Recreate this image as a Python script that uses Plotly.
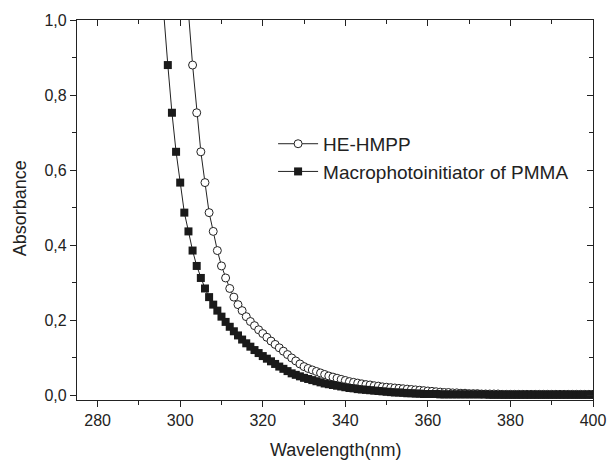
import plotly.graph_objects as go

# ---------------- data ----------------
wl_macro = list(range(295, 401))
abs_macro = [
    1.25, 1.02,
    0.880, 0.753, 0.649, 0.567, 0.487, 0.437, 0.386, 0.345, 0.313, 0.285,
    0.262, 0.242, 0.226, 0.210, 0.196, 0.183, 0.171, 0.160, 0.149, 0.139,
    0.130, 0.121, 0.113, 0.105, 0.098, 0.091, 0.084, 0.077, 0.071, 0.065,
    0.059, 0.055, 0.051, 0.047, 0.044, 0.041, 0.038, 0.035, 0.032, 0.030,
    0.028, 0.026, 0.024, 0.022, 0.020, 0.019, 0.017, 0.016, 0.015, 0.014,
    0.013, 0.012, 0.011, 0.010, 0.009, 0.008, 0.008, 0.007, 0.006, 0.006,
    0.005, 0.005, 0.004, 0.004, 0.004, 0.004, 0.003, 0.003, 0.003, 0.003,
    0.003, 0.003, 0.003, 0.003, 0.003, 0.003, 0.003, 0.003, 0.002, 0.002,
    0.002, 0.002, 0.002, 0.002, 0.002, 0.002, 0.002, 0.002, 0.002, 0.002,
    0.002, 0.002, 0.002, 0.002, 0.002, 0.002, 0.002, 0.002, 0.002, 0.002,
    0.002, 0.002, 0.002, 0.002,
]

wl_hehmpp = list(range(301, 401))
abs_hehmpp = [
    1.25, 1.02,
    0.880, 0.753, 0.649, 0.567, 0.487, 0.437, 0.386, 0.345, 0.313, 0.285,
    0.262, 0.242, 0.226, 0.210, 0.197, 0.186, 0.175, 0.165, 0.155, 0.145,
    0.136, 0.127, 0.118, 0.109, 0.100, 0.092, 0.084, 0.077, 0.072, 0.068,
    0.064, 0.060, 0.056, 0.052, 0.049, 0.046, 0.043, 0.040, 0.037, 0.035,
    0.033, 0.031, 0.029, 0.028, 0.026, 0.025, 0.023, 0.022, 0.021, 0.020,
    0.019, 0.018, 0.017, 0.016, 0.015, 0.014, 0.013, 0.012, 0.011, 0.010,
    0.009, 0.008, 0.008, 0.007, 0.007, 0.006, 0.006, 0.005, 0.005, 0.005,
    0.004, 0.004, 0.004, 0.004, 0.004, 0.003, 0.003, 0.003, 0.003, 0.003,
    0.003, 0.003, 0.003, 0.003, 0.003, 0.003, 0.003, 0.003, 0.003, 0.003,
    0.003, 0.003, 0.003, 0.003, 0.003, 0.003, 0.003, 0.003,
]

x_tickvals = [280, 300, 320, 340, 360, 380, 400]
x_ticktext = ["280", "300", "320", "340", "360", "380", "400"]
y_tickvals = [0.0, 0.2, 0.4, 0.6, 0.8, 1.0]
y_ticktext = ["0,0", "0,2", "0,4", "0,6", "0,8", "1,0"]

x_title = "Wavelength(nm)"
y_title = "Absorbance"

# ---------------- figure ----------------
FONT = "Liberation Sans, Arial, sans-serif"
fig = go.Figure()

fig.add_trace(go.Scatter(
    x=wl_hehmpp, y=abs_hehmpp, mode="lines+markers", name="HE-HMPP",
    line=dict(color="#222222", width=1),
    marker=dict(symbol="circle", size=8, color="white",
                line=dict(color="#222222", width=1)),
))
fig.add_trace(go.Scatter(
    x=wl_macro, y=abs_macro, mode="lines+markers",
    name="Macrophotoinitiator of PMMA",
    line=dict(color="#222222", width=1),
    marker=dict(symbol="square", size=8, color="#1a1a1a",
                line=dict(color="#1a1a1a", width=0)),
))
# empty helper trace to activate mirror axes (top/right, inward ticks)
fig.add_trace(go.Scatter(x=[], y=[], xaxis="x2", yaxis="y2",
                         showlegend=False, hoverinfo="skip"))

xr = [275, 400]
yr = [-0.012, 1.0]
axis_color = "#222222"
TICK_SIZE = 16

fig.update_layout(
    width=609, height=462,
    margin=dict(l=77, r=16, t=20, b=62, autoexpand=False),
    paper_bgcolor="white", plot_bgcolor="white",
    font=dict(family=FONT, size=TICK_SIZE, color="#222222"),
    showlegend=True,
    legend=dict(x=0.38, y=0.724, xanchor="left", yanchor="top",
                bgcolor="rgba(0,0,0,0)", font=dict(size=19),
                tracegroupgap=0, itemwidth=40),
    xaxis=dict(
        range=xr, showgrid=False, zeroline=False, automargin=False,
        showline=True, linecolor=axis_color, linewidth=1.3,
        ticks="outside", ticklen=6, tickwidth=1, tickcolor=axis_color,
        tickvals=x_tickvals, ticktext=x_ticktext,
        minor=dict(ticks="outside", ticklen=4, dtick=10, tick0=270,
                   tickcolor=axis_color, showgrid=False),
        tickfont=dict(size=TICK_SIZE),
    ),
    yaxis=dict(
        range=yr, showgrid=False, zeroline=False, automargin=False,
        showline=True, linecolor=axis_color, linewidth=1.3,
        ticks="outside", ticklen=6, tickwidth=1, tickcolor=axis_color,
        tickvals=y_tickvals, ticktext=y_ticktext,
        minor=dict(ticks="outside", ticklen=4, dtick=0.1, tick0=0,
                   tickcolor=axis_color, showgrid=False),
        tickfont=dict(size=TICK_SIZE),
    ),
    xaxis2=dict(
        overlaying="x", side="top", range=xr, showgrid=False, zeroline=False,
        automargin=False,
        showline=True, linecolor=axis_color, linewidth=1.3,
        ticks="inside", ticklen=6, tickcolor=axis_color,
        tickvals=x_tickvals, showticklabels=False,
        minor=dict(ticks="inside", ticklen=4, dtick=10, tick0=270,
                   tickcolor=axis_color, showgrid=False),
    ),
    yaxis2=dict(
        overlaying="y", side="right", range=yr, showgrid=False, zeroline=False,
        automargin=False,
        showline=True, linecolor=axis_color, linewidth=1.3,
        ticks="inside", ticklen=6, tickcolor=axis_color,
        tickvals=y_tickvals, showticklabels=False,
        minor=dict(ticks="inside", ticklen=4, dtick=0.1, tick0=0,
                   tickcolor=axis_color, showgrid=False),
    ),
    annotations=[
        dict(text=x_title, xref="paper", yref="paper", x=0.5, y=-0.132,
             xanchor="center", yanchor="middle", showarrow=False,
             font=dict(size=18)),
        dict(text=y_title, xref="paper", yref="paper", x=-0.110, y=0.505,
             xanchor="center", yanchor="middle", showarrow=False,
             textangle=-90, font=dict(size=18)),
    ],
)

fig.write_html(
    "out.html",
    config={"displayModeBar": False},
    post_script="document.body.style.margin='0';document.body.style.padding='0';",
)
